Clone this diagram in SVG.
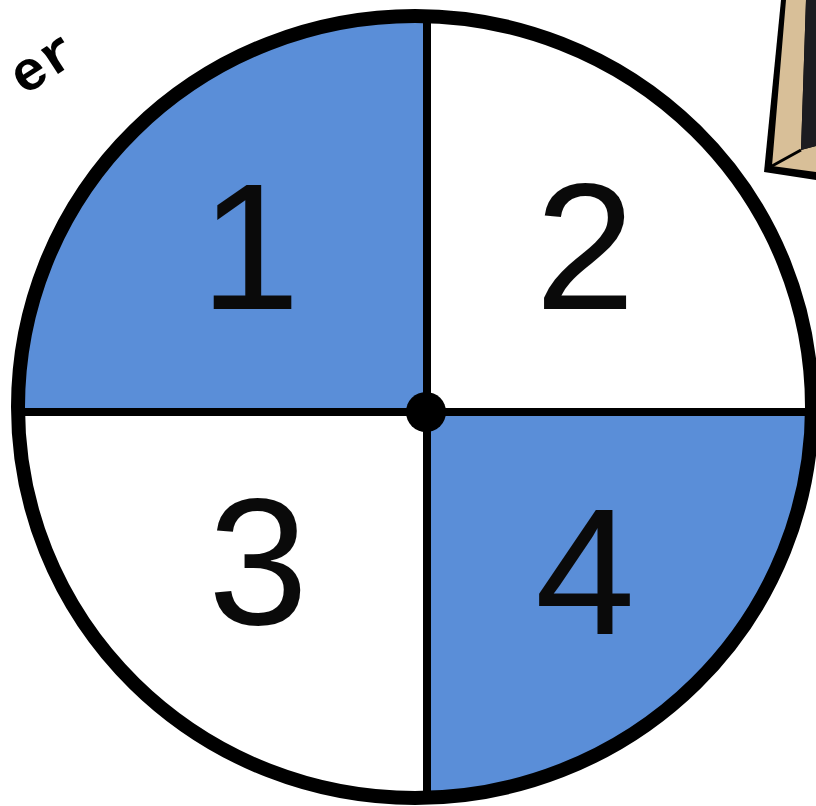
<svg xmlns="http://www.w3.org/2000/svg" width="816" height="806" viewBox="0 0 816 806">
<style>
.num{font-family:"Liberation Sans","DejaVu Sans",sans-serif;font-size:180px;fill:#0a0a0a;text-anchor:middle}
.blue{fill:#5a8ed8}
.ln{stroke:#000;stroke-width:8;fill:none}
</style>
<rect width="816" height="806" fill="#fff"/>
<g id="title">
<text x="0" y="0" transform="translate(24,96) rotate(-33)" font-family="Liberation Mono,monospace" font-weight="bold" font-size="56" fill="#000">er</text>
</g>
<g id="frame">
<polygon points="781,0 816,0 816,180 764,172" fill="#000"/>
<polygon points="786,0 806,0 801,150 816,146 816,172 772,166" fill="#d8bf98"/>
<polygon points="806,0 816,0 816,146 801,150" fill="#1c1c20"/>
<line x1="772" y1="166" x2="801" y2="150" stroke="#000" stroke-width="3"/>
</g>
<g id="spinner">
<path class="blue" d="M427,412 L427,14 A397,392 0 0 0 18,412 Z"/>
<path class="blue" d="M427,412 L812,412 A397,392 0 0 1 427,798 Z"/>
<ellipse cx="415" cy="407" rx="397" ry="391" fill="none" stroke="#000" stroke-width="14"/>
<line class="ln" x1="427" y1="14" x2="427" y2="800"/>
<line class="ln" x1="18" y1="412" x2="812" y2="412"/>
<circle cx="426" cy="412" r="20" fill="#000"/>
</g>
<g id="labels">
<text class="num" x="250" y="309">1</text>
<text class="num" x="585" y="309">2</text>
<text class="num" x="258" y="624">3</text>
<text class="num" x="585" y="634">4</text>
</g>
</svg>
